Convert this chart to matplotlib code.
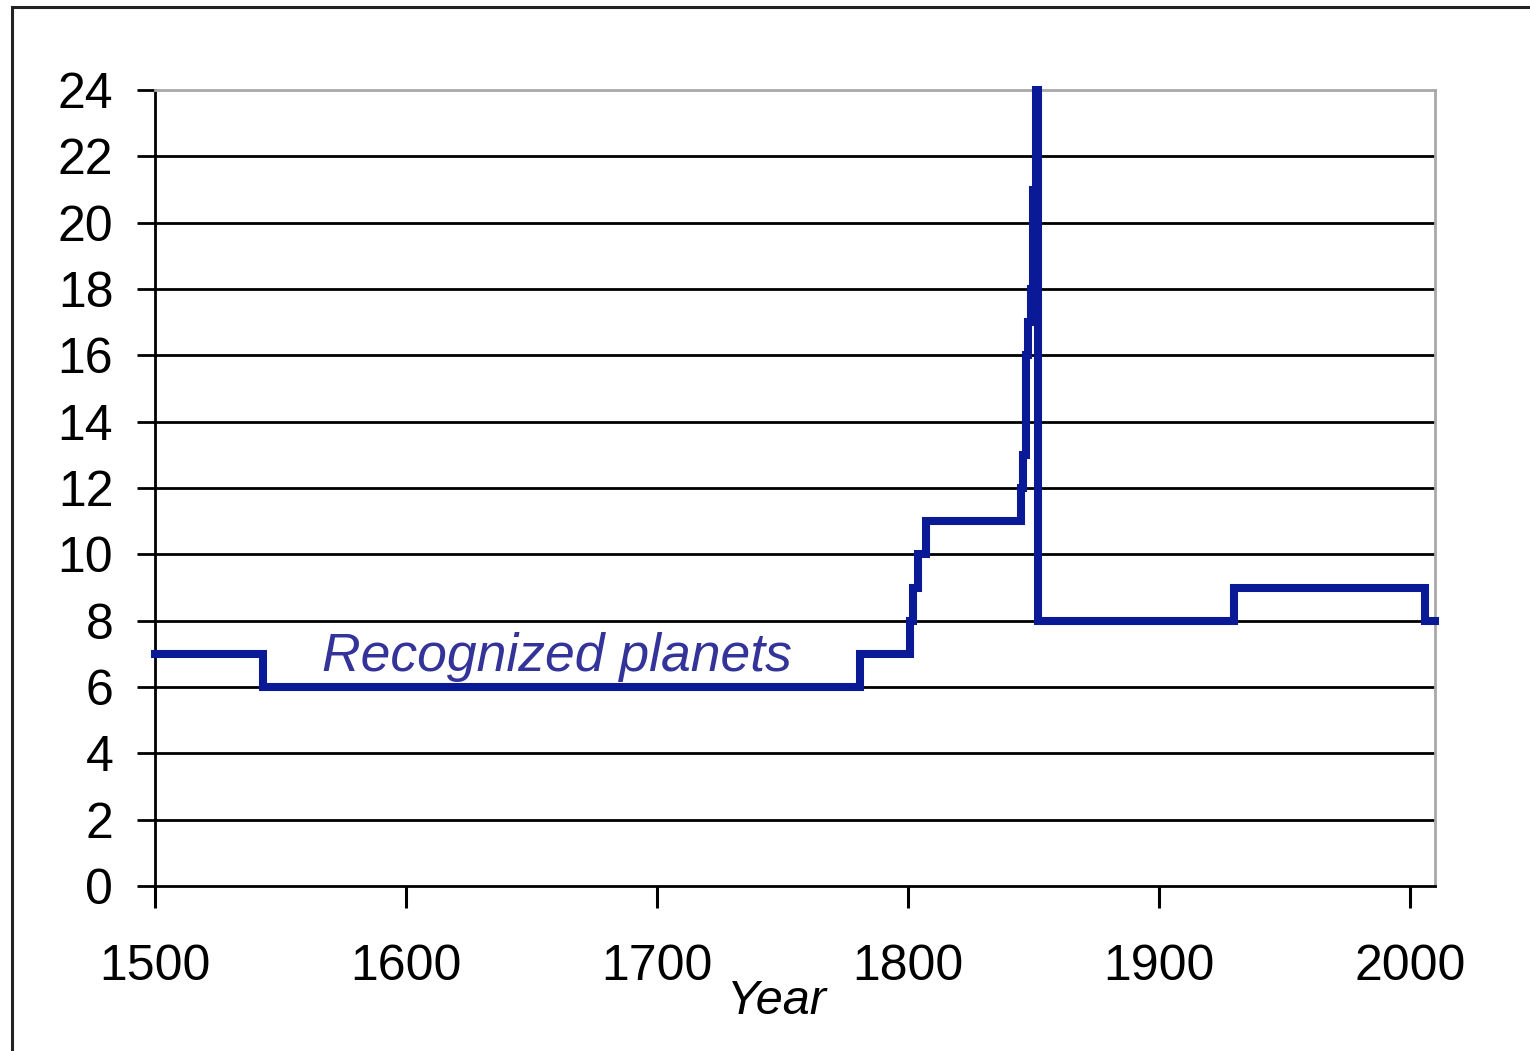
import matplotlib
matplotlib.use("Agg")
import matplotlib.pyplot as plt
from matplotlib.patches import Rectangle

plt.rcParams["font.family"] = ["Liberation Sans", "DejaVu Sans"]

# Number of recognized planets over time (step changes)
years = [1500, 1543, 1781, 1801, 1802, 1804, 1807, 1845, 1846, 1847,
         1848, 1849, 1850, 1851, 1852, 1930, 2006, 2010]
planets = [7, 6, 7, 8, 9, 10, 11, 12, 13, 16,
           17, 18, 21, 24, 8, 9, 8, 8]

x_ticks = [1500, 1600, 1700, 1800, 1900, 2000]
y_ticks = list(range(0, 25, 2))

W, H = 1530, 1051
fig = plt.figure(figsize=(W / 100, H / 100), dpi=100)

# outer chart frame (cut at right/bottom like the screenshot)
fig.patches.append(Rectangle((12 / W, -0.05), 1.1, 1 - 7 / H + 0.05,
                             transform=fig.transFigure, fill=False,
                             edgecolor="#222222", linewidth=2.2))

ax = fig.add_axes([155 / W, 1 - 886 / H, (1435 - 155) / W, (886 - 90) / H])

ax.step(years, planets, where="post", color="#0a1a96", linewidth=5.8,
        solid_joinstyle="miter", clip_on=False, zorder=3)

ax.set_xlim(1500, 2010)
ax.set_ylim(0, 24)
ax.set_xticks(x_ticks)
ax.set_yticks(y_ticks)
ax.tick_params(axis="y", direction="out", length=13, width=2, pad=17,
               labelsize=36, colors="black")
ax.tick_params(axis="x", direction="out", length=16, width=2.2, pad=26,
               labelsize=36, colors="black")

for y in y_ticks[1:-1]:
    ax.axhline(y, color="black", linewidth=2, zorder=1)

for s in ("left", "bottom"):
    ax.spines[s].set_color("black")
    ax.spines[s].set_linewidth(2)
for s in ("top", "right"):
    ax.spines[s].set_color("#a8a8a8")
    ax.spines[s].set_linewidth(2)

ax.text(1566.5, 6.9, "Recognized planets", fontsize=38.5, style="italic",
        color="#333399", ha="left", va="center")

fig.text(777 / W, 1 - 1002 / H, "Year", fontsize=35, style="italic",
         ha="center", va="center")

fig.savefig("out.png", dpi=100)
